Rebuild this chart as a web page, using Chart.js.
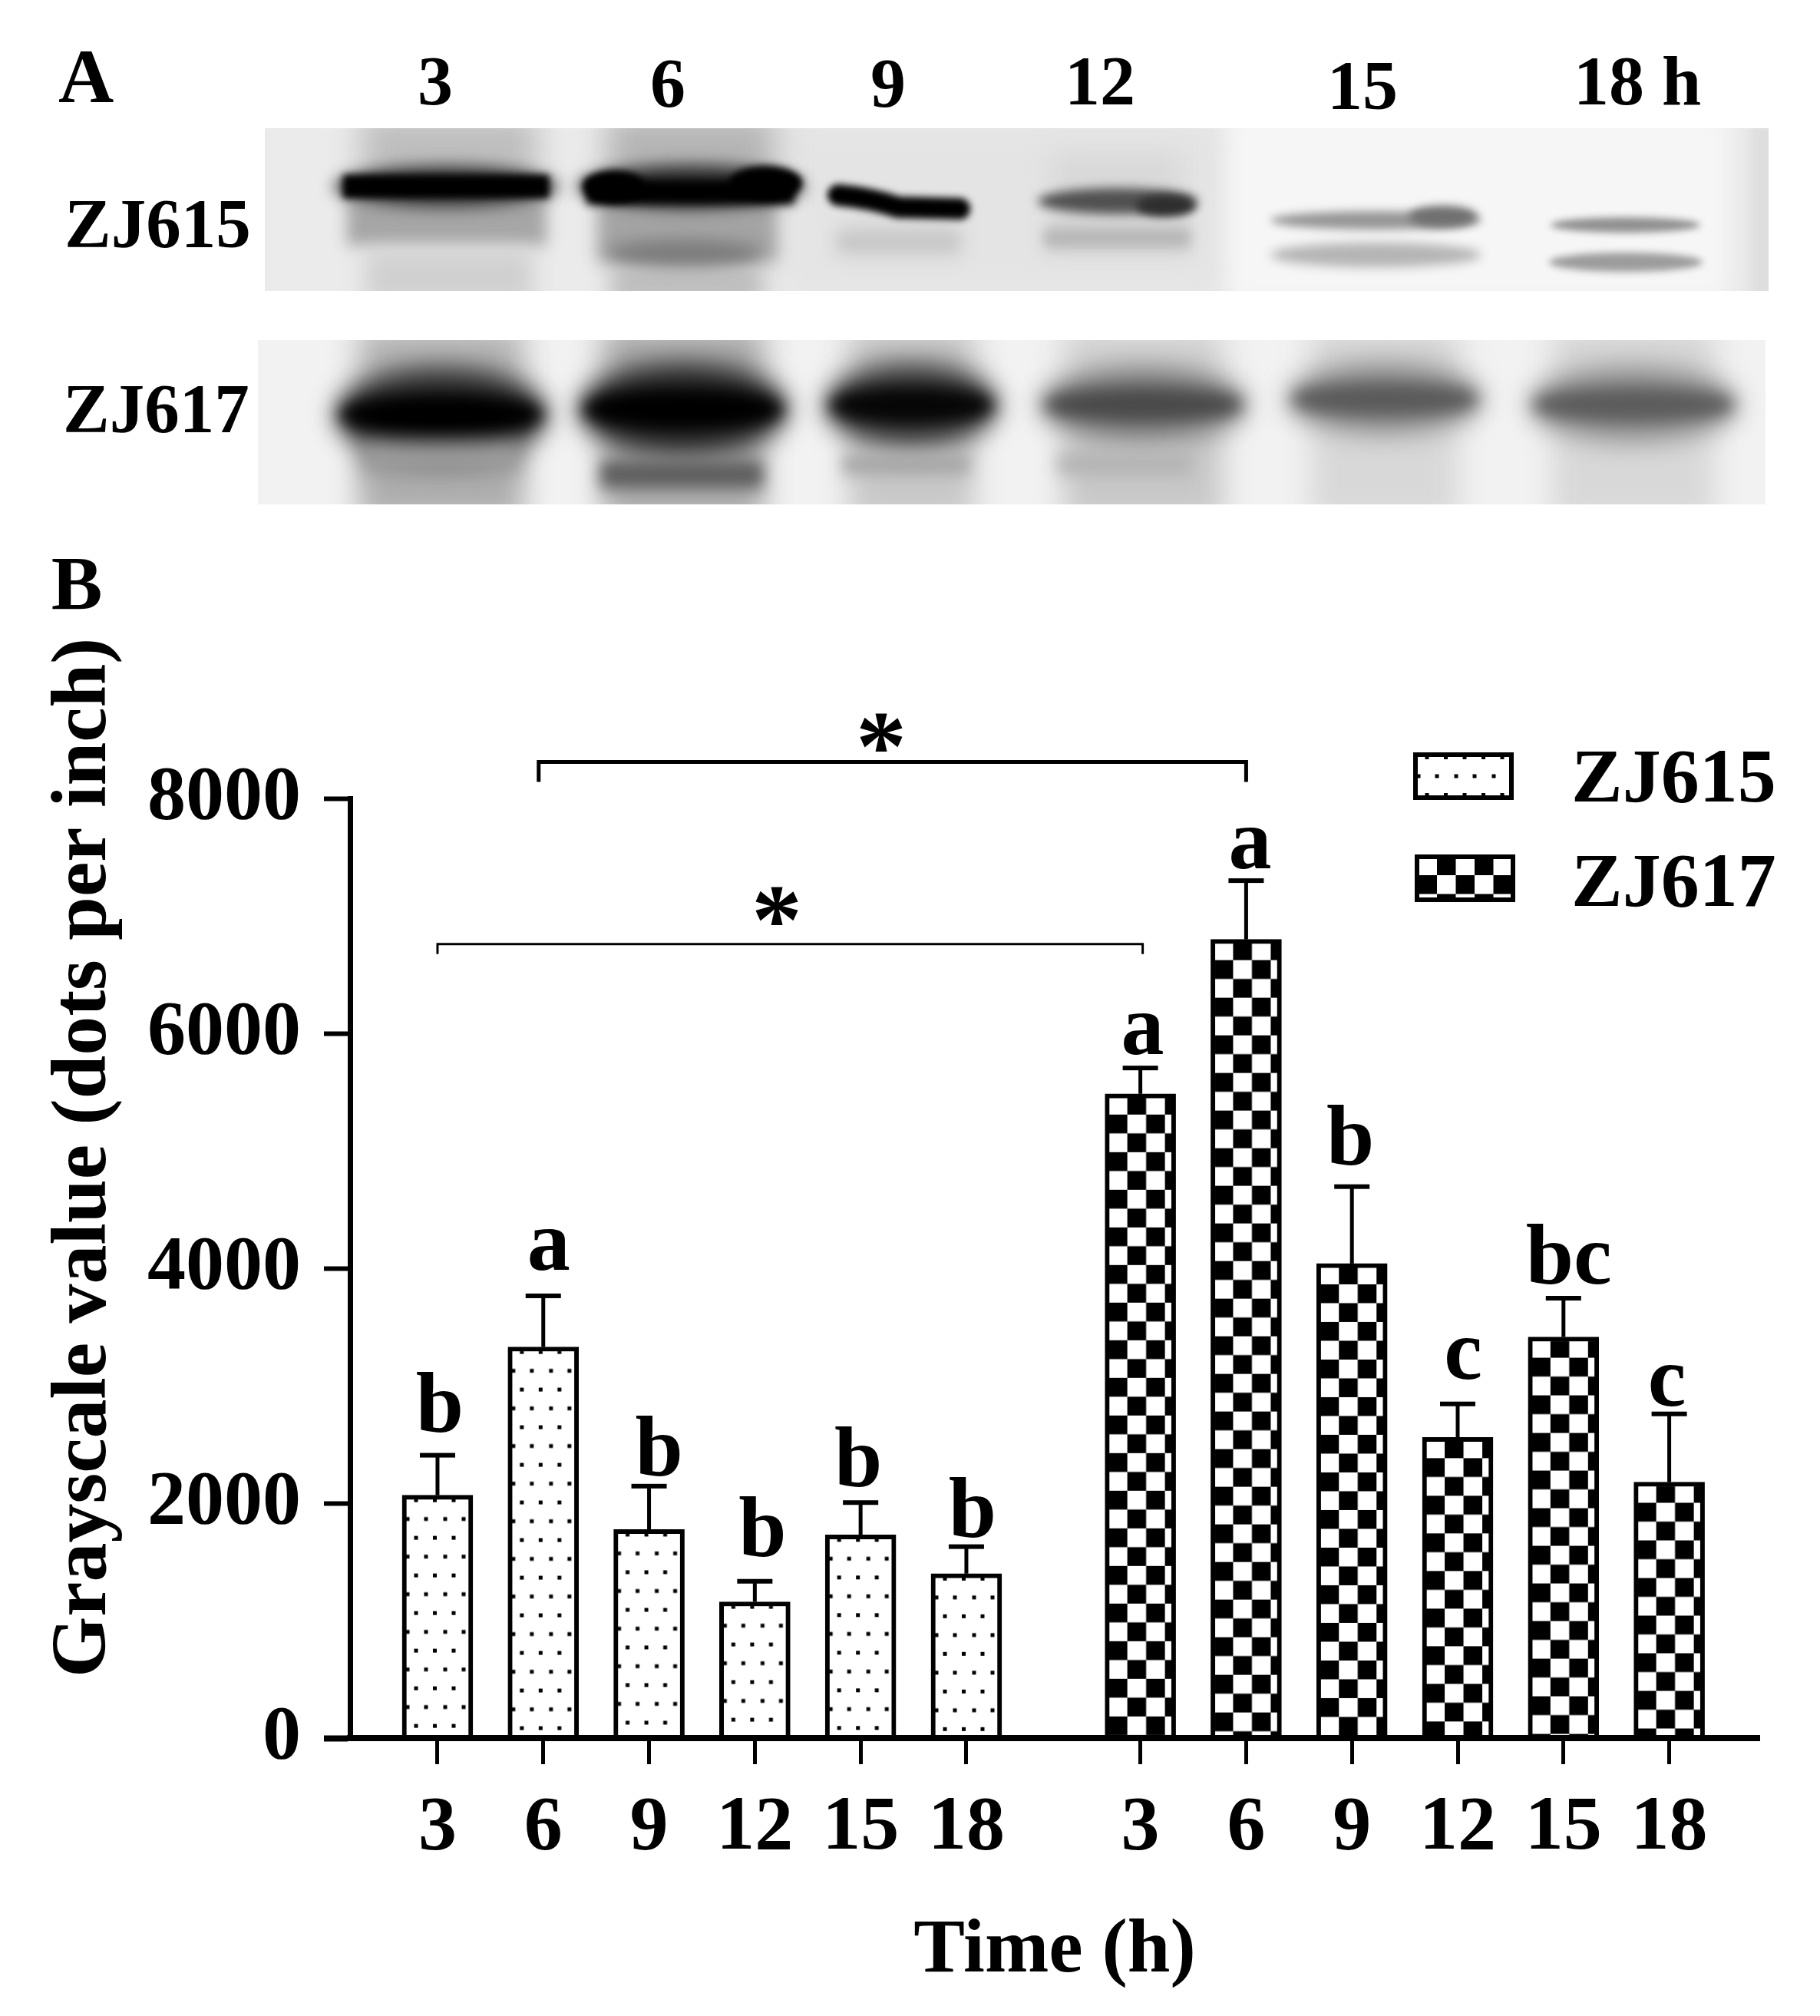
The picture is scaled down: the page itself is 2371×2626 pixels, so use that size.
<!DOCTYPE html>
<html>
<head>
<meta charset="utf-8">
<title>Grayscale value over time</title>
<script src="https://cdn.jsdelivr.net/npm/chart.js@4"></script>
<style>
  html, body { margin: 0; padding: 0; background: #fff; }
  #wrap { position: relative; width: 2371px; height: 2626px; }
</style>
</head>
<body>
<div id="wrap"><canvas id="chart" width="2371" height="2626"></canvas></div>
<script>
// values
const hours = ['3', '6', '9', '12', '15', '18'];
const strains = ['ZJ615', 'ZJ617'];
const zj615Means = [2068, 3330, 1775, 1160, 1730, 1400];
const zj617Means = [5485, 6800, 4040, 2560, 3415, 2180];
const zj615Errors = [340, 435, 370, 175, 275, 230];
const zj617Errors = [220, 500, 655, 285, 330, 580];
const zj615Letters = ['b', 'a', 'b', 'b', 'b', 'b'];
const zj617Letters = ['a', 'a', 'b', 'c', 'bc', 'c'];
const yTicks = [0, 2000, 4000, 6000, 8000];
const blotLanes = ['3', '6', '9', '12', '15', '18 h'];

const SERIF = "'Liberation Serif', 'Times New Roman', serif";
const BAR_WIDTH = 92;
const GROUP_GAP = 0.645; // extra space between the two strains, in bar slots

// the letters sit a little off centre in the figure: [dx, dy] per bar
const letterNudges = [
  [[3, -5], [7, -8], [13, 12], [10, -7], [-3, 5], [8, 13]],
  [[3, 8], [5, 10], [-2, -3], [7, -7], [7, 7], [-3, 15]]
];

const xOf = (group, i) => i + 1 + (group === 1 ? 6 + GROUP_GAP : 0);
const tickPositions = [...hours.map((_, i) => xOf(0, i)), ...hours.map((_, i) => xOf(1, i))];
const tickLabels = [...hours, ...hours];

function dotTile() {
  const c = document.createElement('canvas');
  c.width = c.height = 49;
  const g = c.getContext('2d');
  g.fillStyle = '#fff';
  g.fillRect(0, 0, 49, 49);
  g.fillStyle = '#000';
  [[18, 6.5], [42.5, 6.5], [7, 31], [31, 31]].forEach(([x, y]) => g.fillRect(x - 2.5, y - 2.5, 5, 5));
  return c;
}

function checkTile() {
  const c = document.createElement('canvas');
  c.width = c.height = 49;
  const g = c.getContext('2d');
  g.fillStyle = '#fff';
  g.fillRect(0, 0, 49, 49);
  g.fillStyle = '#000';
  // row 1: black from 29 to 53.5 (wraps), row 2: black from 4.5 to 29
  g.fillRect(29, 2.5, 20, 24.5);
  g.fillRect(0, 2.5, 4.5, 24.5);
  g.fillRect(4.5, 27, 24.5, 22);
  g.fillRect(4.5, 0, 24.5, 2.5);
  return c;
}

const tiles = [dotTile(), checkTile()];

// pattern starts at each bar's own top left corner, like in the figure
function barPattern(group) {
  return (ctx) => {
    if (ctx.dataIndex === undefined) return '#fff';
    const chart = ctx.chart;
    const d = ctx.dataset.data[ctx.dataIndex];
    const px = chart.scales.x.getPixelForValue(d.x) - BAR_WIDTH / 2;
    const py = chart.scales.y.getPixelForValue(d.y);
    const p = chart.ctx.createPattern(tiles[group], 'repeat');
    p.setTransform(new DOMMatrix().translate(px, py));
    return p;
  };
}

function blurBand(g, x, y, w, h, shade, blur) {
  g.save();
  g.filter = `blur(${blur}px)`;
  g.fillStyle = shade;
  g.beginPath();
  g.ellipse(x + w / 2, y + h / 2, w / 2, h / 2, 0, 0, Math.PI * 2);
  g.fill();
  g.restore();
}

function blurRect(g, x, y, w, h, shade, blur) {
  g.save();
  g.filter = `blur(${blur}px)`;
  g.fillStyle = shade;
  g.fillRect(x, y, w, h);
  g.restore();
}

function drawBlotTop(g) {
  g.save();
  g.beginPath();
  g.rect(345, 167, 1959, 212);
  g.clip();
  g.fillStyle = '#ebebeb';
  g.fillRect(345, 167, 1959, 212);
  blurRect(g, 1020, 150, 580, 240, '#e4e4e4', 20);
  blurRect(g, 1600, 150, 650, 240, '#f6f6f6', 14);
  blurRect(g, 2280, 160, 40, 230, '#dedede', 6);
  // lane smears
  blurRect(g, 470, 150, 230, 90, '#bdbdbd', 20);
  blurRect(g, 790, 150, 220, 90, '#b4b4b4', 20);
  blurRect(g, 1370, 200, 170, 60, '#d8d8d8', 16);
  blurRect(g, 452, 258, 260, 62, '#a6a6a6', 10);
  blurRect(g, 475, 325, 220, 70, '#d0d0d0', 14);
  blurRect(g, 778, 258, 235, 84, '#a4a4a4', 11);
  blurRect(g, 795, 345, 200, 50, '#bcbcbc', 14);
  blurRect(g, 1100, 285, 150, 50, '#dadada', 12);
  blurRect(g, 1365, 280, 185, 50, '#d4d4d4', 12);
  // main and lower bands
  blurBand(g, 435, 216, 292, 54, '#333', 10);
  blurBand(g, 752, 214, 296, 58, '#333', 10);
  blurRect(g, 447, 228, 268, 30, '#000', 5);
  blurRect(g, 764, 234, 271, 32, '#000', 6);
  blurBand(g, 760, 222, 80, 42, '#000', 5);
  blurBand(g, 950, 216, 95, 44, '#000', 5);
  blurBand(g, 790, 312, 205, 36, '#7c7c7c', 10);
  g.save();
  g.filter = 'blur(5px)';
  g.strokeStyle = '#000';
  g.lineWidth = 28;
  g.lineCap = 'round';
  g.beginPath();
  g.moveTo(1092, 254);
  g.quadraticCurveTo(1135, 258, 1170, 270);
  g.lineTo(1250, 272);
  g.stroke();
  g.restore();
  blurRect(g, 1090, 302, 160, 26, '#c6c6c6', 10);
  blurBand(g, 1352, 245, 208, 34, '#505050', 7);
  blurBand(g, 1480, 254, 78, 28, '#2e2e2e', 6);
  blurRect(g, 1360, 298, 190, 24, '#b6b6b6', 8);
  blurBand(g, 1655, 275, 275, 24, '#969696', 6);
  blurBand(g, 1835, 268, 90, 28, '#707070', 6);
  blurBand(g, 1655, 316, 275, 32, '#b4b4b4', 7);
  blurBand(g, 2020, 283, 195, 20, '#909090', 5);
  blurBand(g, 2018, 329, 200, 25, '#9c9c9c', 5);
  g.restore();
}

function drawBlotBottom(g) {
  g.save();
  g.beginPath();
  g.rect(336, 443, 1964, 214);
  g.clip();
  g.fillStyle = '#f2f2f2';
  g.fillRect(336, 443, 1964, 214);
  const lanes = [
    { x: 439, w: 272, cy: 540, h: 56, top: '#b2b2b2', core: '#000', halo: '#303030', low: '#aeaeae' },
    { x: 756, w: 268, cy: 533, h: 54, top: '#a8a8a8', core: '#000', halo: '#282828', low: '#acacac' },
    { x: 1077, w: 221, cy: 528, h: 50, top: '#c2c2c2', core: '#060606', halo: '#3c3c3c', low: '#c8c8c8' },
    { x: 1357, w: 265, cy: 527, h: 44, top: '#d0d0d0', core: '#4a4a4a', halo: '#7c7c7c', low: '#c8c8c8' },
    { x: 1679, w: 250, cy: 520, h: 42, top: '#d4d4d4', core: '#5a5a5a', halo: '#8a8a8a', low: '#d8d8d8' },
    { x: 1994, w: 268, cy: 527, h: 44, top: '#d4d4d4', core: '#5c5c5c', halo: '#8c8c8c', low: '#d8d8d8' }
  ];
  lanes.forEach((l) => {
    blurRect(g, l.x + 28, 425, l.w - 56, 110, l.top, 20);
    blurRect(g, l.x + 28, 550, l.w - 56, 130, l.low, 18);
    blurBand(g, l.x - 2, l.cy - l.h * 1.1, l.w + 4, l.h * 2.2, l.halo, 16);
    blurBand(g, l.x + 4, l.cy - l.h / 2, l.w - 8, l.h, l.core, 10);
  });
  blurRect(g, 782, 600, 212, 36, '#5e5e5e', 10);
  blurRect(g, 1098, 592, 165, 26, '#a6a6a6', 10);
  blurRect(g, 1378, 590, 175, 28, '#b2b2b2', 11);
  blurRect(g, 472, 578, 205, 40, '#9c9c9c', 13);
  g.restore();
}

function text(g, str, x, y, font, align) {
  g.font = font;
  g.textAlign = align || 'center';
  g.textBaseline = 'alphabetic';
  g.fillStyle = '#000';
  g.fillText(str, x, y);
}

const panelAPlugin = {
  id: 'panelA',
  beforeDraw(chart) {
    const g = chart.ctx;
    g.save();
    g.fillStyle = '#fff';
    g.fillRect(0, 0, chart.width, chart.height);
    drawBlotTop(g);
    drawBlotBottom(g);
    const f = `bold 100px ${SERIF}`;
    text(g, 'A', 112, 133, f);
    const laneX = [567, 870, 1157, 1433, 1775, 2133];
    const laneY = [136, 139, 139, 136, 142, 136];
    blotLanes.forEach((l, i) => text(g, l, laneX[i], laneY[i], `bold 92px ${SERIF}`));
    text(g, strains[0], 84, 322, `bold 91px ${SERIF}`, 'left');
    text(g, strains[1], 82, 563, `bold 91px ${SERIF}`, 'left');
    text(g, 'B', 100, 793, f);
    g.restore();
  }
};

const annotationPlugin = {
  id: 'annotations',
  afterDatasetsDraw(chart) {
    const g = chart.ctx;
    const { x: xs, y: ys } = chart.scales;
    g.save();
    // error bars and letters
    [[zj615Means, zj615Errors, zj615Letters], [zj617Means, zj617Errors, zj617Letters]].forEach(([means, errs, letters], group) => {
      means.forEach((m, i) => {
        const px = xs.getPixelForValue(xOf(group, i));
        const top = ys.getPixelForValue(m);
        const cap = ys.getPixelForValue(m + errs[i]);
        g.fillStyle = '#000';
        g.fillRect(px - 2.5, cap, 5, top - cap);
        g.fillRect(px - 23, cap - 3, 46, 6);
        const [dx, dy] = letterNudges[group][i];
        text(g, letters[i], px + dx, cap - 26 + dy, `bold 112px ${SERIF}`);
      });
    });
    // significance brackets
    g.strokeStyle = '#000';
    g.lineJoin = 'miter';
    const bracket = (x0, x1, val, drop, w) => {
      const y = ys.getPixelForValue(val);
      g.lineWidth = w;
      g.beginPath();
      g.moveTo(x0, y + drop);
      g.lineTo(x0, y);
      g.lineTo(x1, y);
      g.lineTo(x1, y + drop);
      g.stroke();
    };
    bracket(xs.getPixelForValue(xOf(0, 1)) - 6, xs.getPixelForValue(xOf(1, 1)), 8310, 26, 5);
    bracket(xs.getPixelForValue(xOf(0, 0)), xs.getPixelForValue(xOf(1, 0)) + 3, 6760, 13, 3);
    text(g, '*', 1148, 1016, `bold 132px ${SERIF}`);
    text(g, '*', 1012, 1242, `bold 132px ${SERIF}`);
    // legend
    [[1841, 980], [1843, 1113]].forEach(([lx, ly], i) => {
      const w = 131, h = 62, b = 6;
      g.fillStyle = '#000';
      g.fillRect(lx, ly, w, h);
      const p = g.createPattern(tiles[i], 'repeat');
      p.setTransform(new DOMMatrix().translate(lx, ly));
      g.fillStyle = p;
      g.fillRect(lx + b, ly + b, w - 2 * b, h - 2 * b);
      text(g, strains[i], 2047, ly + (i === 0 ? 64 : 67), `bold 100px ${SERIF}`, 'left');
    });
    // y axis title
    g.translate(107, 1508);
    g.rotate(-Math.PI / 2);
    text(g, 'Grayscale value (dots per inch)', 0, 30, `bold 102px ${SERIF}`);
    g.restore();
  }
};

new Chart(document.getElementById('chart'), {
  type: 'bar',
  data: {
    datasets: [
      {
        label: strains[0],
        data: zj615Means.map((v, i) => ({ x: xOf(0, i), y: v })),
        backgroundColor: barPattern(0)
      },
      {
        label: strains[1],
        data: zj617Means.map((v, i) => ({ x: xOf(1, i), y: v })),
        backgroundColor: barPattern(1)
      }
    ]
  },
  options: {
    responsive: false,
    devicePixelRatio: 1,
    animation: false,
    grouped: false,
    barThickness: BAR_WIDTH,
    borderColor: '#000',
    borderWidth: 6,
    borderSkipped: 'bottom',
    layout: { padding: { top: 1040, right: 79, bottom: 0, left: 0 } },
    plugins: { legend: { display: false }, tooltip: { enabled: false } },
    scales: {
      x: {
        type: 'linear',
        min: 0.173,
        max: 13.497,
        offset: false,
        afterFit: (s) => { s.height = 362; },
        afterBuildTicks: (s) => { s.ticks = tickPositions.map((v) => ({ value: v })); },
        border: { color: '#000', width: 8, z: 1 },
        grid: { offset: false, drawOnChartArea: false, drawTicks: true, tickLength: 34, tickColor: '#000', tickWidth: 5 },
        ticks: {
          autoSkip: false,
          maxRotation: 0,
          color: '#000',
          padding: 24,
          font: { family: SERIF, weight: 'bold', size: 100 },
          callback: (v, i) => tickLabels[i]
        },
        title: {
          display: true,
          text: 'Time (h)',
          color: '#000',
          font: { family: SERIF, weight: 'bold', size: 100 },
          padding: { top: 0, bottom: 24 }
        }
      },
      y: {
        min: 0,
        max: 8000,
        afterFit: (s) => { s.width = 456; },
        afterBuildTicks: (s) => { s.ticks = yTicks.map((v) => ({ value: v })); },
        border: { color: '#000', width: 7 },
        grid: {
          drawOnChartArea: false,
          drawTicks: true,
          tickLength: 34,
          tickColor: '#000',
          tickWidth: (ctx) => (ctx.tick && ctx.tick.value === 0 ? 8 : 6)
        },
        ticks: {
          color: '#000',
          padding: 30,
          font: { family: SERIF, weight: 'bold', size: 100 },
          callback: (v) => String(v)
        }
      }
    }
  },
  plugins: [panelAPlugin, annotationPlugin]
});
</script>
</body>
</html>
